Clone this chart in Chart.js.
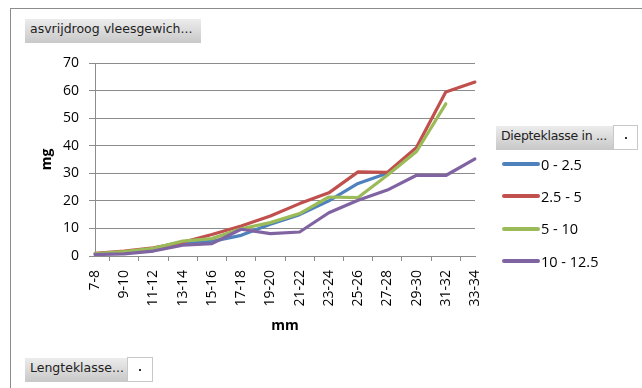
<!DOCTYPE html>
<html>
<head>
<meta charset="utf-8">
<script src="https://cdn.jsdelivr.net/npm/chart.js@4.4.1/dist/chart.umd.min.js"></script>
<style>
  body { margin: 0; background: #fff; }
  #kader { position: absolute; left: 0; top: 0; width: 642px; height: 388px; overflow: hidden; }
  #rand { position: absolute; left: 10px; top: 8px; width: 660px; height: 400px;
          border-top: 1px solid #8c8c8c; border-left: 1px solid #8c8c8c; }
  #grafiek { position: absolute; left: 0; top: 0; }
  .knop { position: absolute; height: 24px; line-height: 24px; box-sizing: border-box;
          padding: 2px 0 0 5px; font: 12.5px "DejaVu Sans", sans-serif; color: #222;
          background: linear-gradient(#ececec, #c8c8c8); white-space: nowrap; overflow: hidden; }
  .vak { position: absolute; height: 25px; box-sizing: border-box; background: #fff;
         border: 1px solid #c8c8c8; }
  .vak::after { content: ""; position: absolute; left: 50%; top: 50%; width: 2px; height: 2px;
                margin: -1px 0 0 -1px; background: #333; }
  #legenda { position: absolute; left: 502px; top: 148px; margin: 0; padding: 0; list-style: none;
             font: 14.5px "Open Sans", sans-serif; color: #000; }
  #legenda li { height: 32.3px; display: flex; align-items: center; }
  #legenda span { display: inline-block; width: 38px; height: 4px; border-radius: 2px; margin-right: 1px; }
</style>
</head>
<body>
<div id="kader">
  <div id="rand"></div>
  <canvas id="grafiek" width="642" height="388"></canvas>

  <div class="knop" style="left:25px; top:19px; width:176px;">asvrijdroog vleesgewich...</div>
  <div class="knop" style="left:496px; top:126px; width:118px; letter-spacing:-0.3px;">Diepteklasse in ...</div>
  <div class="vak" style="left:613px; top:125px; width:25px;"></div>
  <div class="knop" style="left:25px; top:358px; width:103px;">Lengteklasse...</div>
  <div class="vak" style="left:127px; top:357px; width:26px;"></div>

  <ul id="legenda"></ul>
</div>

<script>
// lengteklassen (mm)
const lengteklassen = ["7-8", "9-10", "11-12", "13-14", "15-16", "17-18", "19-20",
                       "21-22", "23-24", "25-26", "27-28", "29-30", "31-32", "33-34"];

// diepteklassen
const diepteklassen = ["0 - 2.5", "2.5 - 5", "5 - 10", "10 - 12.5"];

// asvrijdroog vleesgewicht (mg) per diepteklasse
const diepte_0_25    = [0.8, 1.3, 2.2, 4.5, 5.3, 7.5, 11.5, 15.0, 20.0, 26.3, 30.0, null, null, null];
const diepte_25_5    = [1.0, 1.8, 3.0, 5.0, 7.8, 10.9, 14.5, 19.0, 22.9, 30.5, 30.3, 39.4, 59.5, 63.1];
const diepte_5_10    = [0.9, 1.6, 2.8, 5.4, 6.3, 9.9, 12.1, 15.4, 21.4, 21.2, 29.3, 37.9, 55.2, null];
const diepte_10_125  = [0.5, 0.8, 1.8, 3.9, 4.5, 9.7, 8.1, 8.7, 15.7, 20.2, 23.9, 29.3, 29.2, 35.2];

const kleuren = ["#4F81BD", "#C0504D", "#9BBB59", "#8064A2"];
const reeksen = [diepte_0_25, diepte_25_5, diepte_5_10, diepte_10_125];

const lijnKleur = "#8c8c8c";
const tekstFont = { family: "'Open Sans', sans-serif", size: 14 };
const titelFont = { family: "'Open Sans', sans-serif", size: 14, weight: "bold" };

// legenda als html-lijst
const legenda = document.getElementById("legenda");
diepteklassen.forEach((naam, i) => {
    legenda.innerHTML += `<li><span style="background:${kleuren[i]}"></span>${naam}</li>`;
});

const ctx = document.getElementById("grafiek").getContext("2d");

new Chart(ctx, {
    type: "line",
    data: {
        labels: lengteklassen,
        datasets: reeksen.map((data, i) => ({
            label: diepteklassen[i],
            data,
            borderColor: kleuren[i],
            backgroundColor: kleuren[i],
            borderWidth: 3.2,
            pointRadius: 0,
            tension: 0,
            spanGaps: false,
            borderJoinStyle: "round",
            borderCapStyle: "round",
            order: reeksen.length - i   // laatste reeks bovenop
        }))
    },
    options: {
        responsive: false,
        animation: false,
        layout: { padding: { left: 35, top: 63, right: 167, bottom: 54 } },
        plugins: {
            legend: { display: false },
            tooltip: { enabled: false }
        },
        scales: {
            y: {
                min: 0,
                max: 70,
                ticks: { stepSize: 10, color: "#000", font: tekstFont, padding: 10 },
                grid: { color: lijnKleur, tickLength: 6, lineWidth: 1 },
                border: { color: lijnKleur },
                title: { display: true, text: "mg", color: "#000", font: titelFont,
                         padding: { top: 4, bottom: 0 } },
                afterFit: (s) => { s.width = 60; }
            },
            x: {
                ticks: { color: "#000", font: tekstFont, minRotation: 90, maxRotation: 90,
                         autoSkip: false, padding: 9 },
                grid: { offset: true, drawOnChartArea: false, color: lijnKleur, tickLength: 5 },
                border: { color: lijnKleur },
                title: { display: true, text: "mm", color: "#000", font: titelFont,
                         padding: { top: 4, bottom: 0 } },
                afterFit: (s) => { s.height = 388 - 256 - 54; }
            }
        }
    }
});
</script>
</body>
</html>
